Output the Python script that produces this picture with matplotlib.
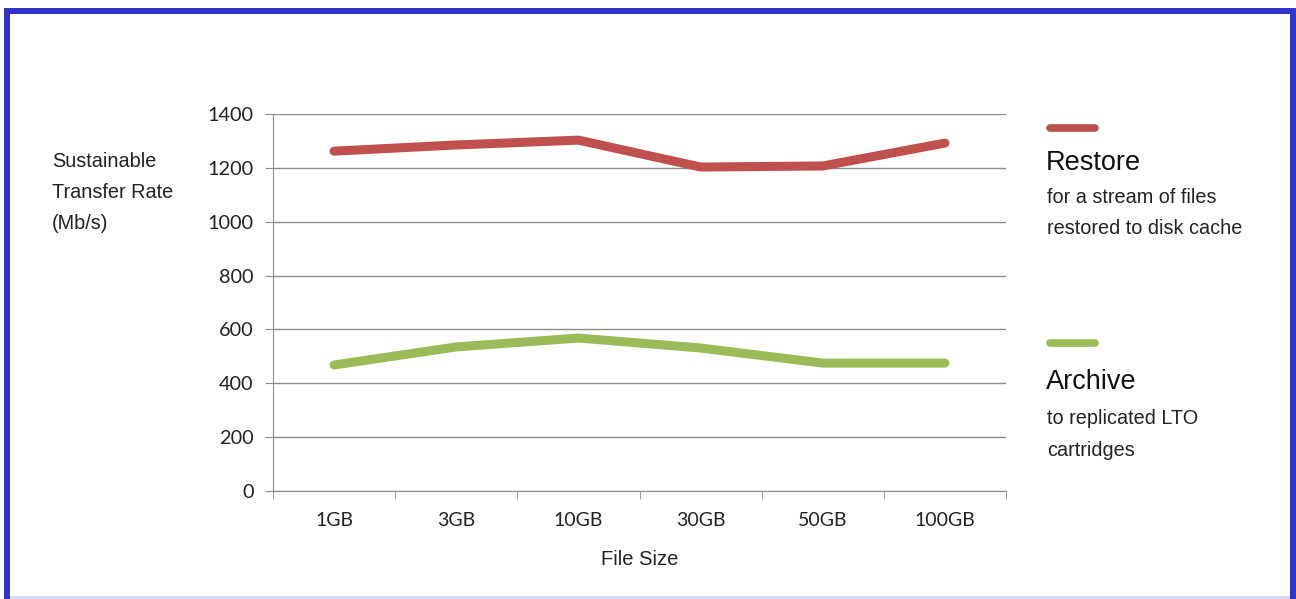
import matplotlib.pyplot as plt
from matplotlib.patches import Rectangle
from matplotlib.lines import Line2D

file_sizes = ['1GB', '3GB', '10GB', '30GB', '50GB', '100GB']
restore_rate = [1262, 1285, 1303, 1203, 1207, 1292]
archive_rate = [468, 535, 568, 531, 475, 475]
y_ticks = [0, 200, 400, 600, 800, 1000, 1200, 1400]

RED = '#c0504d'
GREEN = '#9bbb59'
GRID = '#8c8c8c'
BORDER = '#3333cc'
W, H = 1296, 599

fig = plt.figure(figsize=(W / 100, H / 100), dpi=100)
fig.patch.set_facecolor('white')

# blue frame around the picture
def px_rect(x0, y0, x1, y1, color):
    fig.patches.append(Rectangle((x0 / W, 1 - y1 / H), (x1 - x0) / W, (y1 - y0) / H,
                                 transform=fig.transFigure, facecolor=color,
                                 edgecolor='none', zorder=0))

px_rect(4, 8, 1296, 14, BORDER)
px_rect(4, 8, 10, 599, BORDER)
px_rect(1290, 8, 1296, 599, BORDER)
px_rect(10, 596, 1290, 599, '#d8d8f8')

ax = fig.add_axes([273 / W, 1 - 491 / H, (1006 - 273) / W, (491 - 114) / H])
x = list(range(len(file_sizes)))
ax.plot(x, restore_rate, color=RED, lw=6.5, solid_capstyle='round', solid_joinstyle='round', zorder=3)
ax.plot(x, archive_rate, color=GREEN, lw=6.5, solid_capstyle='round', solid_joinstyle='round', zorder=3)

ax.set_xlim(-0.5, len(file_sizes) - 0.5)
ax.set_ylim(0, 1400)
ax.set_yticks(y_ticks)
ax.set_yticklabels([str(v) for v in y_ticks], family='Lato', fontsize=14.3, color='#222222')
ax.set_xticks(x)
ax.set_xticklabels(file_sizes, family='Lato', fontsize=14, color='#222222')
ax.set_xticks([i - 0.5 for i in range(len(file_sizes) + 1)], minor=True)

ax.grid(axis='y', color=GRID, lw=1)
ax.set_axisbelow(True)
for s in ['top', 'right']:
    ax.spines[s].set_visible(False)
for s in ['left', 'bottom']:
    ax.spines[s].set_color(GRID)
ax.tick_params(axis='y', length=6, color=GRID, pad=8)
ax.tick_params(axis='x', which='major', length=0, pad=15)
ax.tick_params(axis='x', which='minor', length=6, color=GRID)

ax.set_xlabel('File Size', family='Liberation Sans', fontsize=14.5, color='#222222', labelpad=15)

fig.text(52 / W, 1 - 192.5 / H, 'Sustainable\nTransfer Rate\n(Mb/s)', family='Liberation Sans',
         fontsize=14.3, color='#222222', ha='left', va='center', linespacing=1.8)

# side legend
for ly, color in [(128, RED), (343, GREEN)]:
    fig.lines.append(Line2D([1050 / W, 1095 / W], [1 - ly / H] * 2, transform=fig.transFigure,
                            color=color, lw=5.5, solid_capstyle='round'))

fig.text(1046 / W, 1 - 163 / H, 'Restore', family='Liberation Sans', fontsize=19.5,
         color='#111111', ha='left', va='center')
fig.text(1047 / W, 1 - 213 / H, 'for a stream of files\nrestored to disk cache', family='Liberation Sans',
         fontsize=14.3, color='#222222', ha='left', va='center', linespacing=1.8)
fig.text(1046 / W, 1 - 382 / H, 'Archive', family='Liberation Sans', fontsize=19.5,
         color='#111111', ha='left', va='center')
fig.text(1047 / W, 1 - 434.5 / H, 'to replicated LTO\ncartridges', family='Liberation Sans',
         fontsize=14.3, color='#222222', ha='left', va='center', linespacing=1.8)

fig.savefig('out.png', dpi=100, facecolor='white')
